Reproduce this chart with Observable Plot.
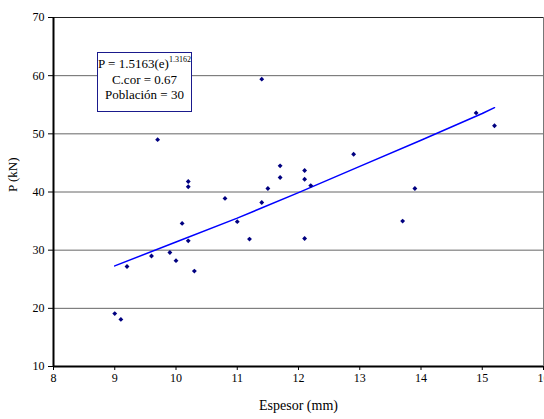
<!DOCTYPE html>
<html>
<head>
<meta charset="utf-8">
<script src="https://cdn.jsdelivr.net/npm/d3@7"></script>
<script src="https://cdn.jsdelivr.net/npm/@observablehq/plot@0.6"></script>
<style>
  html, body { margin: 0; padding: 0; background: #fff; }
  #wrap { position: relative; width: 544px; height: 419px; overflow: hidden; }
  #wrap svg text { font-family: "Liberation Serif", "Times New Roman", "DejaVu Serif", serif; }
  #note {
    position: absolute; left: 97px; top: 52px; width: 93px; height: 55px;
    border: 1px solid #1a1a8c; background: #fff;
    font-family: "Liberation Serif", "Times New Roman", "DejaVu Serif", serif; font-size: 13px; line-height: 15.5px;
    text-align: center; color: #000; padding-top: 3px; box-sizing: content-box;
  }
  #note sup { font-size: 8px; vertical-align: 6px; line-height: 0; }
</style>
</head>
<body>
<div id="wrap"></div>
<script>
// Data
const espesor = [9.0, 9.1, 9.2, 9.6, 9.7, 9.9, 10.0, 10.1, 10.2, 10.2, 10.2, 10.3, 10.8, 11.0, 11.2,
                 11.4, 11.4, 11.5, 11.7, 11.7, 12.1, 12.1, 12.1, 12.2, 12.9, 13.7, 13.9, 14.9, 15.2];
const carga   = [19.1, 18.1, 27.2, 29.0, 49.0, 29.6, 28.2, 34.6, 41.8, 40.9, 31.6, 26.4, 38.9, 34.9, 31.9,
                 38.2, 59.4, 40.6, 44.5, 42.5, 43.7, 42.2, 32.0, 41.1, 46.5, 35.0, 40.6, 53.6, 51.4];
// Trend line (power fit) read at a few x positions
const trendX = [9, 10, 11, 12, 13, 14, 15, 15.2];
const trendY = [27.3, 31.4, 35.5, 39.9, 44.4, 48.9, 53.5, 54.5];
const xTicks = [8, 9, 10, 11, 12, 13, 14, 15, 16];
const yTicks = [10, 20, 30, 40, 50, 60, 70];
const yGrid = [20, 30, 40, 50, 60];
const xTitle = "Espesor (mm)";
const yTitle = "P (kN)";
const noteLines = ["P = 1.5163(e)", "1.3162", "C.cor = 0.67", "Población = 30"];

const points = espesor.map((x, i) => ({x, y: carga[i]}));
const trend = trendX.map((x, i) => ({x, y: trendY[i]}));

const chart = Plot.plot({
  width: 544,
  height: 419,
  marginLeft: 53,
  marginRight: 1,
  marginTop: 17,
  marginBottom: 53,
  style: {fontFamily: "'Liberation Serif', 'Times New Roman', 'DejaVu Serif', serif", fontSize: "12px", color: "#000", background: "#fff"},
  x: {domain: [8, 16], ticks: xTicks, tickSize: 4, tickPadding: 3, label: null, tickFormat: d => String(d)},
  y: {domain: [10, 70], ticks: yTicks, tickSize: 5, tickPadding: 4, label: null, tickFormat: d => String(d)},
  marks: [
    Plot.ruleY(yGrid, {stroke: "#666", strokeWidth: 1}),
    Plot.ruleY([70], {stroke: "#222", strokeWidth: 1.2}),
    Plot.ruleX([16], {stroke: "#777", strokeWidth: 1}),
    Plot.ruleY([10], {stroke: "#000", strokeWidth: 2}),
    Plot.ruleX([8], {stroke: "#000", strokeWidth: 2}),
    Plot.line(trend, {x: "x", y: "y", stroke: "#0000ff", strokeWidth: 1.5}),
    Plot.dot(points, {x: "x", y: "y", symbol: "diamond2", r: 2.2, fill: "#000080", stroke: "none"}),
    Plot.text([xTitle], {frameAnchor: "bottom", dy: 43, fontSize: 14, fill: "#000"}),
    Plot.text([yTitle], {frameAnchor: "left", dx: -41, rotate: -90, fontSize: 13, fill: "#000"})
  ]
});

const wrap = document.getElementById("wrap");
wrap.appendChild(chart);
const note = document.createElement("div");
note.id = "note";
note.innerHTML = `${noteLines[0]}<sup>${noteLines[1]}</sup><br>${noteLines[2]}<br>${noteLines[3]}`;
wrap.appendChild(note);
</script>
</body>
</html>
